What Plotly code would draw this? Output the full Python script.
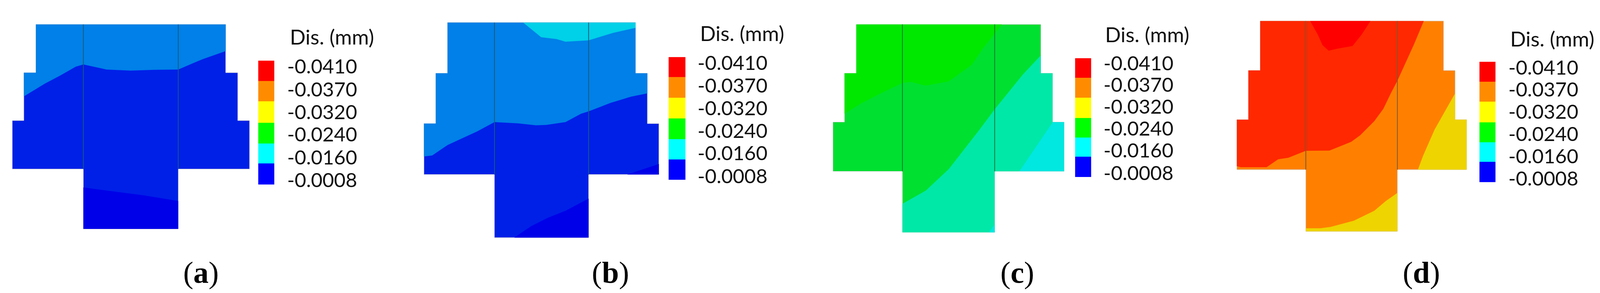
# -*- coding: utf-8 -*-
# displacement contours on the T section, four panels with a legend each
import plotly.graph_objs as go

# legend
levelLabels = ["-0.0410", "-0.0370", "-0.0320", "-0.0240", "-0.0160", "-0.0008"]
levelColors = ["#0000FF", "#00FFFF", "#00FF00", "#FFFF00", "#FF8C00", "#FF0000"]
levelIndex = [[5], [4], [3], [2], [1], [0]]
titleText = "Dis. (mm)"

# section outlines, x then y
outlineAX = [140, 880, 880, 927, 927, 973, 973, 695, 695, 325, 325, 48, 48, 93, 93, 140, 140]
outlineAY = [130, 130, 387, 387, 642, 642, 900, 900, 1219, 1219, 900, 900, 642, 642, 387, 387, 130]
outlineBX = [185, 918, 918, 964, 964, 1009, 1009, 735, 735, 368, 368, 93, 93, 139, 139, 185, 185]
outlineBY = [120, 120, 390, 390, 658, 658, 929, 929, 1265, 1265, 929, 929, 658, 658, 390, 390, 120]
outlineCX = [219, 939, 939, 985, 985, 1030, 1030, 759, 759, 399, 399, 128, 128, 173, 173, 219, 219]
outlineCY = [130, 130, 390, 390, 650, 650, 912, 912, 1237, 1237, 912, 912, 650, 650, 390, 390, 130]
outlineDX = [235, 950, 950, 995, 995, 1040, 1040, 770, 770, 413, 413, 144, 144, 189, 189, 235, 235]
outlineDY = [112, 112, 375, 375, 637, 637, 903, 903, 1232, 1232, 903, 903, 637, 637, 375, 375, 112]

# contour bands, (a)
lightAX = [140, 880, 880, 790, 695, 600, 510, 450, 415, 325, 295, 235, 175, 93, 93, 140, 140]
lightAY = [130, 130, 272, 315, 370, 372, 376, 373, 370, 343, 355, 402, 445, 513, 387, 387, 130]
darkAX = [325, 420, 560, 695, 695, 325, 325]
darkAY = [998, 1015, 1040, 1070, 1219, 1219, 998]

# contour bands, (b)
lightBX = [185, 918, 918, 964, 964, 900, 820, 735, 705, 645, 570, 530, 460, 400, 368, 300, 240, 185, 125, 93, 93, 139, 139, 185, 185]
lightBY = [120, 120, 390, 390, 497, 515, 548, 593, 606, 650, 665, 667, 657, 652, 650, 700, 738, 772, 828, 833, 658, 658, 390, 390, 120]
cyanBX = [480, 918, 918, 830, 735, 645, 610, 550, 480]
cyanBY = [120, 120, 148, 175, 215, 222, 208, 198, 120]
darkB1X = [885, 1009, 1009, 885]
darkB1Y = [929, 873, 929, 929]
darkB2X = [445, 510, 575, 645, 735, 735, 445]
darkB2Y = [1265, 1205, 1160, 1122, 1057, 1265, 1265]

# contour bands, (c)
greenCX = [219, 787, 759, 715, 670, 580, 490, 430, 399, 310, 235, 173, 173, 219, 219]
greenCY = [130, 130, 180, 255, 345, 433, 456, 436, 442, 500, 553, 606, 390, 390, 130]
tealCX = [939, 870, 759, 700, 640, 580, 490, 399, 399, 759, 759, 855, 985, 985, 939, 939]
tealCY = [295, 395, 582, 690, 795, 900, 1015, 1085, 1237, 1237, 912, 912, 650, 390, 390, 295]
cyanC1X = [855, 985, 1030, 1030, 855]
cyanC1Y = [912, 650, 650, 912, 912]
cyanC2X = [737, 759, 759, 737]
cyanC2Y = [1237, 1195, 1237, 1237]

# contour bands, (d)
warmDX = [235, 873, 835, 770, 745, 715, 680, 625, 590, 505, 413, 345, 305, 260, 160, 144, 144, 189, 189, 235, 235]
warmDY = [112, 112, 235, 430, 495, 580, 645, 720, 755, 802, 803, 840, 848, 890, 890, 885, 637, 637, 375, 375, 112]
redDX = [430, 665, 630, 595, 540, 502, 478, 460, 430]
redDY = [112, 112, 185, 245, 258, 270, 240, 185, 112]
yellowD1X = [850, 870, 915, 995, 995, 1040, 1040, 850]
yellowD1Y = [903, 830, 690, 497, 637, 637, 903, 903]
yellowD2X = [413, 470, 510, 600, 680, 725, 770, 770, 413, 413]
yellowD2Y = [1215, 1215, 1208, 1175, 1122, 1070, 1027, 1232, 1232, 1215]

# per panel settings
panels = [
    dict(name="a", left=0, right=1040, x=outlineAX, y=outlineAY, base="#0020E8", seam="#1A5A78",
         seams=[325, 695], seamEnd=900,
         bands=[(lightAX, lightAY, "#0080E8"), (darkAX, darkAY, "#0000E8")],
         barX=[1007, 1070], barY=[323, 432, 540, 653, 763, 871, 982],
         labelX=1120, labelY=[365, 487, 607, 727, 850, 970], titleX=1127, titleY=195, capX=783),
    dict(name="b", left=1040, right=2080, x=outlineBX, y=outlineBY, base="#0020E8", seam="#1A5A78",
         seams=[368, 735], seamEnd=929,
         bands=[(lightBX, lightBY, "#0080E8"), (cyanBX, cyanBY, "#00D0E8"),
                (darkB1X, darkB1Y, "#0000E8"), (darkB2X, darkB2Y, "#0000E8")],
         barX=[1047, 1112], barY=[304, 411, 521, 631, 741, 848, 958],
         labelX=1160, labelY=[345, 466, 587, 707, 827, 950], titleX=1167, titleY=175, capX=820),
    dict(name="c", left=2080, right=3119, x=outlineCX, y=outlineCY, base="#00E030", seam="#0A7A3A",
         seams=[399, 759], seamEnd=912,
         bands=[(greenCX, greenCY, "#00E800"), (tealCX, tealCY, "#00E8A8"),
                (cyanC1X, cyanC1Y, "#00E8E0"), (cyanC2X, cyanC2Y, "#00E8E0")],
         barX=[1073, 1136], barY=[310, 413, 520, 628, 733, 834, 942],
         labelX=1184, labelY=[348, 462, 578, 695, 812, 932], titleX=1187, titleY=183, capX=847),
    dict(name="d", left=3119, right=4159, x=outlineDX, y=outlineDY, base="#FF8000", seam="#7A5A30",
         seams=[413, 770], seamEnd=903,
         bands=[(warmDX, warmDY, "#FF2800"), (redDX, redDY, "#FF0000"),
                (yellowD1X, yellowD1Y, "#EED400"), (yellowD2X, yellowD2Y, "#EED400")],
         barX=[1090, 1152], barY=[329, 436, 541, 652, 758, 862, 970],
         labelX=1203, labelY=[370, 488, 606, 724, 843, 962], titleX=1207, titleY=205, capX=863),
]

colorscale = []
for i, c in enumerate(levelColors):
    colorscale.append([i / 6, c])
    colorscale.append([(i + 1) / 6, c])

fig = go.Figure()
annotations = []
layoutAxes = {}

for i, p in enumerate(panels):
    suffix = "" if i == 0 else str(i + 1)
    xref, yref = "x" + suffix, "y" + suffix
    layoutAxes["xaxis" + suffix] = dict(domain=[p["left"] / 4159, p["right"] / 4159], range=[0, 1560],
                                        visible=False, fixedrange=True, anchor=yref)
    layoutAxes["yaxis" + suffix] = dict(domain=[0, 1], range=[1560, 0], visible=False,
                                        fixedrange=True, anchor=xref)

    # whole section first, the bands go on top of it
    fig.add_trace(go.Scatter(x=p["x"], y=p["y"], mode="lines", fill="toself", fillcolor=p["base"],
                             line=dict(color="#C8C8C8", width=1), xaxis=xref, yaxis=yref))
    for bandX, bandY, bandColor in p["bands"]:
        fig.add_trace(go.Scatter(x=bandX, y=bandY, mode="lines", fill="toself", fillcolor=bandColor,
                                 line=dict(color=bandColor, width=0), xaxis=xref, yaxis=yref))

    # seams between the stem and the flanges
    for seamX in p["seams"]:
        fig.add_trace(go.Scatter(x=[seamX, seamX], y=[p["y"][0], p["seamEnd"]], mode="lines",
                                 line=dict(color=p["seam"], width=2), xaxis=xref, yaxis=yref))

    # legend bar and its labels
    fig.add_trace(go.Heatmap(x=p["barX"], y=p["barY"], z=levelIndex, zmin=0, zmax=6, zsmooth=False,
                             colorscale=colorscale, showscale=False, xaxis=xref, yaxis=yref))
    fig.add_trace(go.Scatter(x=[p["labelX"]] * len(levelLabels), y=p["labelY"], text=levelLabels,
                             mode="text", textposition="middle right",
                             textfont=dict(family="Lato", size=51, color="#111111"),
                             xaxis=xref, yaxis=yref))

    annotations.append(dict(text=titleText, x=p["titleX"], y=p["titleY"], xref=xref, yref=yref,
                            xanchor="left", yanchor="middle", showarrow=False,
                            font=dict(family="Lato", size=53, color="#111111")))
    annotations.append(dict(text="(<b>" + p["name"] + "</b>)", x=p["capX"], y=1450, xref=xref, yref=yref,
                            xanchor="center", yanchor="middle", showarrow=False,
                            font=dict(family="Liberation Serif", size=78, color="#000000")))

fig.update_layout(margin=dict(l=0, r=0, t=0, b=0), showlegend=False,
                  paper_bgcolor="white", plot_bgcolor="white", annotations=annotations, **layoutAxes)
fig.write_html("out.html", config=dict(displayModeBar=False),
               post_script="document.body.style.margin='0';document.body.style.overflow='hidden';window.dispatchEvent(new Event('resize'));")
